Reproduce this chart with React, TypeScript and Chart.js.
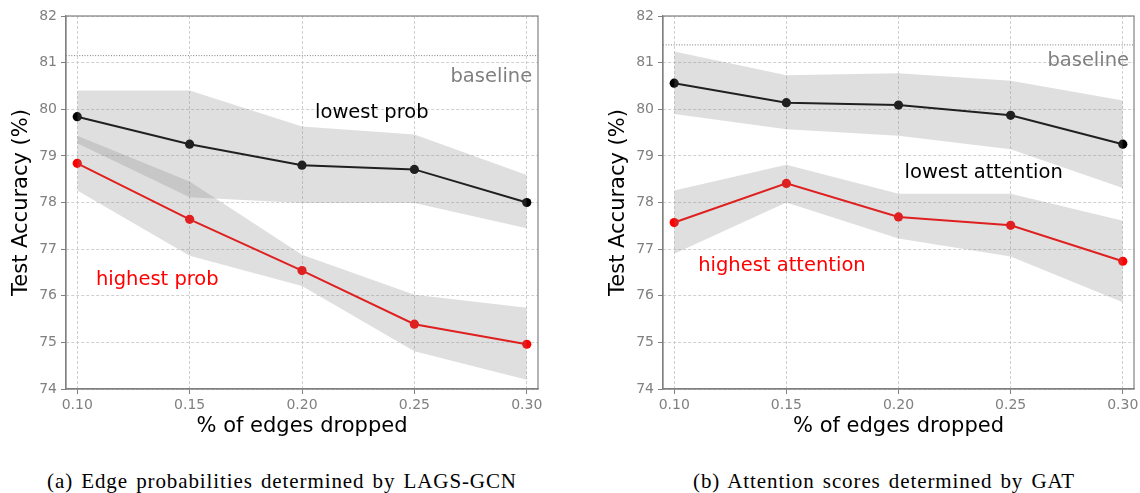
import React, { useEffect, useRef } from "react";
import { Chart, registerables } from "chart.js";

Chart.register(...registerables);

// ---- data ----
const xValues = [0.1, 0.15, 0.2, 0.25, 0.3];
const xTicks = [0.1, 0.15, 0.2, 0.25, 0.3];
const yTicks = [74, 75, 76, 77, 78, 79, 80, 81, 82];

// (a) LAGS-GCN
const gcnLowest = [79.84, 79.25, 78.8, 78.71, 78.0];
const gcnLowestUpper = [80.4, 80.4, 79.63, 79.46, 78.59];
const gcnLowestLower = [79.27, 78.11, 77.99, 77.99, 77.45];
const gcnHighest = [78.84, 77.64, 76.54, 75.39, 74.96];
const gcnHighestUpper = [79.43, 78.45, 76.88, 76.02, 75.74];
const gcnHighestLower = [78.26, 76.86, 76.21, 74.81, 74.2];
const gcnBaseline = 81.15;

// (b) GAT
const gatLowest = [80.56, 80.14, 80.09, 79.87, 79.25];
const gatLowestUpper = [81.24, 80.73, 80.77, 80.61, 80.19];
const gatLowestLower = [79.9, 79.57, 79.43, 79.14, 78.31];
const gatHighest = [77.57, 78.41, 77.69, 77.51, 76.74];
const gatHighestUpper = [78.26, 78.81, 78.19, 78.19, 77.61];
const gatHighestLower = [76.9, 78.0, 77.23, 76.84, 75.86];
const gatBaseline = 81.38;

const FONT = "'DejaVu Sans', sans-serif";
const GRAY = "#808080";
const BAND = "rgba(128,128,128,0.25)";

type Note = { text: string; x: number; y: number; color: string; align: CanvasTextAlign };

const gcnNotes: Note[] = [
  { text: "baseline", x: 0.3024, y: 80.69, color: GRAY, align: "right" },
  { text: "lowest prob", x: 0.2058, y: 79.93, color: "#000000", align: "left" },
  { text: "highest prob", x: 0.1083, y: 76.34, color: "#ff0000", align: "left" },
];
const gatNotes: Note[] = [
  { text: "baseline", x: 0.3028, y: 81.04, color: GRAY, align: "right" },
  { text: "lowest attention", x: 0.2027, y: 78.63, color: "#000000", align: "left" },
  { text: "highest attention", x: 0.1107, y: 76.63, color: "#ff0000", align: "left" },
];

const pts = (ys: number[]) => ys.map((y, i) => ({ x: xValues[i], y }));

function makeConfig(
  lowest: number[], lowU: number[], lowL: number[],
  highest: number[], highU: number[], highL: number[],
  baseline: number, notes: Note[], padRight: number
): any {
  const overlay = {
    id: "overlay",
    beforeDatasetsDraw(chart: any) {
      const { ctx, chartArea, scales } = chart;
      const y = scales.y.getPixelForValue(baseline);
      ctx.save();
      ctx.strokeStyle = "#7a7a7a";
      ctx.lineWidth = 1;
      ctx.setLineDash([1, 1.65]);
      ctx.beginPath();
      ctx.moveTo(chartArea.left, y);
      ctx.lineTo(chartArea.right, y);
      ctx.stroke();
      ctx.restore();
    },
    afterDraw(chart: any) {
      const { ctx, chartArea, scales } = chart;
      ctx.save();
      ctx.strokeStyle = GRAY;
      ctx.lineWidth = 1.2;
      ctx.setLineDash([]);
      ctx.strokeRect(chartArea.left, chartArea.top, chartArea.right - chartArea.left, chartArea.bottom - chartArea.top);
      ctx.font = `19.5px ${FONT}`;
      ctx.textBaseline = "middle";
      for (const n of notes) {
        ctx.fillStyle = n.color;
        ctx.textAlign = n.align;
        ctx.fillText(n.text, scales.x.getPixelForValue(n.x), scales.y.getPixelForValue(n.y));
      }
      ctx.restore();
    },
  };

  const band = (data: number[]) => ({
    data: pts(data),
    borderWidth: 0,
    pointRadius: 0,
    backgroundColor: BAND,
    borderColor: "transparent",
  });
  const line = (data: number[], color: string) => ({
    data: pts(data),
    borderColor: color,
    backgroundColor: color,
    borderWidth: 2,
    pointRadius: 4.6,
    pointBorderWidth: 0,
    pointBackgroundColor: color,
    fill: false,
  });

  return {
    type: "line",
    data: {
      datasets: [
        { ...band(lowU), fill: "+1" },
        { ...band(lowL), fill: false },
        { ...band(highU), fill: "+1" },
        { ...band(highL), fill: false },
        line(lowest, "#000000"),
        line(highest, "#ff0000"),
      ],
    },
    options: {
      responsive: false,
      animation: false,
      devicePixelRatio: 1,
      layout: { padding: { top: 16, right: padRight, left: 0, bottom: 0 } },
      plugins: { legend: { display: false }, tooltip: { enabled: false } },
      scales: {
        x: {
          type: "linear",
          min: 0.095,
          max: 0.305,
          afterBuildTicks: (s: any) => { s.ticks = xTicks.map((v) => ({ value: v })); },
          afterFit: (s: any) => { s.height = 56; s.paddingLeft = 0; s.paddingRight = 0; },
          ticks: {
            color: GRAY,
            font: { family: FONT, size: 14 },
            padding: 3,
            maxRotation: 0,
            callback: (v: any) => Number(v).toFixed(2),
          },
          grid: { color: "#c4c4c4", lineWidth: 0.8, tickLength: 5, tickColor: GRAY, tickWidth: 1, tickBorderDash: [] },
          border: { display: true, color: GRAY, width: 1.2, dash: [3, 2] },
          title: {
            display: true,
            text: "% of edges dropped",
            color: "#000000",
            font: { family: FONT, size: 21 },
            padding: { top: 0, bottom: 5.4 },
          },
        },
        y: {
          type: "linear",
          min: 74,
          max: 82,
          afterBuildTicks: (s: any) => { s.ticks = yTicks.map((v) => ({ value: v })); },
          afterFit: (s: any) => { s.width = 66; s.paddingTop = 0; s.paddingBottom = 0; },
          ticks: {
            color: GRAY,
            font: { family: FONT, size: 14 },
            padding: 4,
            callback: (v: any) => String(v),
          },
          grid: { color: "#c4c4c4", lineWidth: 0.8, tickLength: 5, tickColor: GRAY, tickWidth: 1, tickBorderDash: [] },
          border: { display: true, color: GRAY, width: 1.2, dash: [3, 2] },
          title: {
            display: true,
            text: "Test Accuracy (%)",
            color: "#000000",
            font: { family: FONT, size: 21 },
            padding: { top: 9, bottom: 0 },
          },
        },
      },
    },
    plugins: [overlay],
  };
}

function Panel(props: { left: number; width: number; config: any }) {
  const ref = useRef<HTMLCanvasElement | null>(null);
  useEffect(() => {
    if (!ref.current) return;
    const chart = new Chart(ref.current, props.config);
    return () => chart.destroy();
  }, []);
  return (
    <canvas
      ref={ref}
      width={props.width}
      height={445}
      style={{ position: "absolute", left: props.left, top: 0, width: props.width, height: 445 }}
    />
  );
}

const captionStyle: React.CSSProperties = {
  position: "absolute",
  top: 468,
  fontFamily: "'Liberation Serif', 'DejaVu Serif', serif",
  fontSize: 21,
  letterSpacing: "0.9px",
  wordSpacing: "2px",
  lineHeight: "26px",
  color: "#000",
  whiteSpace: "nowrap",
  transform: "translateX(-50%)",
};

export default function App() {
  const cfgA = makeConfig(gcnLowest, gcnLowestUpper, gcnLowestLower, gcnHighest, gcnHighestUpper, gcnHighestLower, gcnBaseline, gcnNotes, 22);
  const cfgB = makeConfig(gatLowest, gatLowestUpper, gatLowestLower, gatHighest, gatHighestUpper, gatHighestLower, gatBaseline, gatNotes, 6);
  return (
    <div style={{ position: "absolute", left: 0, top: 0, width: 1140, height: 493, overflow: "hidden", background: "#fff" }}>
      <Panel left={0} width={560} config={cfgA} />
      <Panel left={597} width={543} config={cfgB} />
      <div style={{ ...captionStyle, left: 282 }}>(a) Edge probabilities determined by LAGS-GCN</div>
      <div style={{ ...captionStyle, left: 884 }}>(b) Attention scores determined by GAT</div>
    </div>
  );
}
